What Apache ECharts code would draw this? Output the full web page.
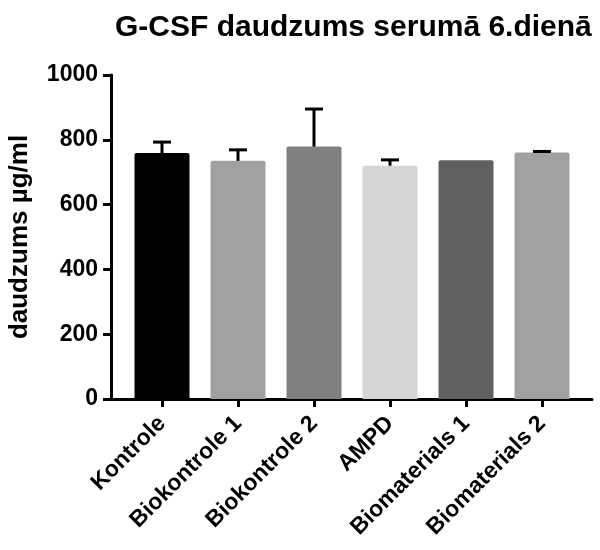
<!DOCTYPE html>
<html>
<head>
<meta charset="utf-8">
<script src="https://cdn.jsdelivr.net/npm/echarts@6/dist/echarts.min.js"></script>
<style>html,body{margin:0;padding:0;background:#fff;}#c{width:600px;height:550px;}</style>
</head>
<body>
<div id="c"></div>
<script>
var categories = ['Kontrole', 'Biokontrole 1', 'Biokontrole 2', 'AMPD', 'Biomaterials 1', 'Biomaterials 2'];
var values = [759, 735, 779, 720, 737, 761];
var errors = [34, 34, 116, 18, 0, 3];
var barColors = ['#000000', '#a1a1a4', '#808080', '#d5d5d5', '#606060', '#a1a1a4'];
var yTicks = [0, 200, 400, 600, 800, 1000];

var FONT = 'Liberation Sans';
var chart = echarts.init(document.getElementById('c'), null, {renderer: 'canvas'});
chart.setOption({
  animation: false,
  backgroundColor: '#fff',
  title: {
    text: 'G-CSF daudzums serumā 6.dienā',
    left: 110, top: 8,
    textStyle: {fontFamily: FONT, fontWeight: 'bold', fontSize: 30, color: '#000'}
  },
  grid: [
    {left: 111, right: 8, top: 75, bottom: 151, containLabel: false, outerBoundsMode: 'none'},
    {left: 124, right: 20, top: 75, bottom: 151, containLabel: false, outerBoundsMode: 'none'}
  ],
  xAxis: [
    {type: 'value', gridIndex: 0, min: 0, max: 1,
      axisLine: {show: true, lineStyle: {color: '#000', width: 3}},
      axisTick: {show: false}, axisLabel: {show: false}, splitLine: {show: false}},
    {type: 'category', gridIndex: 1, data: categories,
      axisLine: {show: false},
      axisTick: {show: true, alignWithLabel: true, length: 8, lineStyle: {color: '#000', width: 3}},
      axisLabel: {rotate: 45, interval: 0, margin: 21, color: '#000', fontFamily: FONT, fontWeight: 'bold', fontSize: 23},
      splitLine: {show: false}}
  ],
  yAxis: [
    {type: 'value', gridIndex: 0, min: 0, max: 1000, interval: 200,
      name: 'daudzums µg/ml', nameLocation: 'middle', nameGap: 78, nameRotate: 90,
      nameTextStyle: {fontFamily: FONT, fontWeight: 'bold', fontSize: 26, color: '#000'},
      axisLine: {show: true, lineStyle: {color: '#000', width: 3}},
      axisTick: {show: true, length: 8, lineStyle: {color: '#000', width: 3}},
      axisLabel: {margin: 13, color: '#000', fontFamily: FONT, fontWeight: 'bold', fontSize: 23,
        formatter: function (v) { return yTicks.indexOf(v) >= 0 ? String(v) : ''; }},
      splitLine: {show: false}},
    {type: 'value', gridIndex: 1, min: 0, max: 1000, show: false}
  ],
  series: [
    {type: 'bar', xAxisIndex: 1, yAxisIndex: 1, barWidth: 55, z: 2,
      data: values.map(function (v, i) {
        return {value: v, itemStyle: {color: barColors[i], borderRadius: [2, 2, 0, 0]}};
      })},
    {type: 'custom', xAxisIndex: 1, yAxisIndex: 1, z: 3,
      data: values.map(function (v, i) { return [i, v, v + errors[i]]; }),
      renderItem: function (params, api) {
        var i = api.value(0);
        if (errors[i] <= 0) return {type: 'group', children: []};
        var p0 = api.coord([i, api.value(1)]);
        var p1 = api.coord([i, api.value(2)]);
        var hw = 9;
        var st = {stroke: '#000', lineWidth: 3};
        return {type: 'group', children: [
          {type: 'line', shape: {x1: p0[0], y1: p0[1], x2: p1[0], y2: p1[1]}, style: st},
          {type: 'line', shape: {x1: p1[0] - hw, y1: p1[1], x2: p1[0] + hw, y2: p1[1]}, style: st}
        ]};
      }}
  ]
});
</script>
</body>
</html>
